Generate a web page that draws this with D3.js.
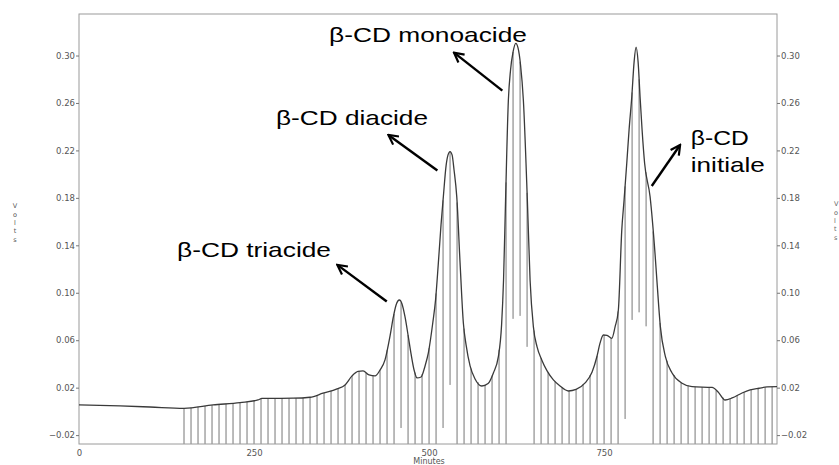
<!DOCTYPE html>
<html><head><meta charset="utf-8">
<script src="https://cdn.jsdelivr.net/npm/d3@7"></script>
<style>body{margin:0;background:#fff}svg{display:block}</style>
</head><body><svg id="c" width="839" height="465"></svg>
<script>
// chromatogram trace (minutes, volts)
const traceT = [0,58.6,101.4,150,191.4,230,255.7,261.4,305.7,330,348.6,368.6,380,390,398.6,405.7,414.3,422.9,430,437.1,444.3,449,452.9,457.6,461.4,465.7,470,474.3,478.6,482.9,488.6,494.3,499,505.3,509.3,513.3,517.1,520.4,524.3,527.1,530,532.9,535.7,539.6,544.3,549,552.9,558.6,565.7,575.3,584.3,591.9,599,603.6,606.4,609.3,613.3,616.4,620,623.9,627.1,630.7,634.7,640.4,644.3,649,654.3,661,668.6,677.6,687.1,699,710,722.9,732.9,740,744.3,749,754.3,761,765.7,770.4,775.3,778.6,782.4,785.7,789.6,792.9,795.7,798.6,801.4,804.3,807.9,815.7,822.9,825.7,830.4,837.6,847.1,861.4,875.7,904.3,912.9,922.9,932.9,947.1,958.6,971.4,982.9,997];
const traceV = [0.0054,0.0046,0.0037,0.0026,0.0054,0.0074,0.0096,0.0109,0.0111,0.0119,0.0153,0.0189,0.0223,0.0299,0.0337,0.0341,0.0307,0.0299,0.0349,0.0434,0.0636,0.0796,0.0897,0.0939,0.0906,0.0796,0.0644,0.0484,0.0349,0.0282,0.029,0.0383,0.0493,0.0745,0.094,0.1252,0.1572,0.1808,0.207,0.2162,0.219,0.2162,0.2035,0.1808,0.1252,0.0745,0.056,0.0383,0.0273,0.0214,0.0235,0.0324,0.0461,0.0729,0.1108,0.1783,0.2625,0.2878,0.303,0.3103,0.3064,0.292,0.2625,0.1783,0.1108,0.0714,0.0543,0.0434,0.0341,0.0265,0.0214,0.0172,0.0185,0.024,0.0332,0.0467,0.0577,0.0644,0.064,0.0616,0.0712,0.0855,0.153,0.1783,0.2092,0.2372,0.2653,0.2946,0.307,0.2946,0.2653,0.2372,0.2092,0.181,0.1319,0.1083,0.0714,0.0461,0.0324,0.0237,0.0208,0.0202,0.0164,0.0096,0.0113,0.0155,0.0181,0.0195,0.0206,0.0208];
// fraction marks (minutes)
const fractionT = [150,160,170,180,190,200,210,220,230,240,250,260,270,280,290,300,310,320,330,340,350,360,370,380,390,400,410,420,430,440,450,460,470,480,490,500,510,520,530,540,550,560,570,580,590,600,610,620,630,640,650,660,670,680,690,700,710,720,730,740,750,760,770,780,790,800,810,820,830,840,850,860,870,880,890,900,910,920,930,940,950,960,970,980,990];
// marks that stop above the axis (minutes -> lower end in volts)
const shortT = [460,520,530,620,630,640,780,790,800,810];
const shortLowV = [-0.014,-0.014,0.0223,0.078,0.0805,0.0544,-0.0064,0.0771,0.0835,0.0717];
const yTicks = [-0.02,0.02,0.06,0.10,0.14,0.18,0.22,0.26,0.30];
const xTicks = [0,250,500,750];
// annotations
const labelText = ["β-CD triacide","β-CD diacide","β-CD monoacide","β-CD","initiale"];
const labelT = [140,281.4,357.1,873.9,873.9];
const labelV = [0.130,0.2415,0.311,0.2246,0.2021];
const labelLen = [154,152,198,58,74];
const arrowFromT = [439.6,511.9,604.7,818.1];
const arrowFromV = [0.0926,0.203,0.2704,0.190];
const arrowToT = [369,441.9,535.7,858.6];
const arrowToV = [0.1235,0.233,0.3024,0.2246];

const svg = d3.select("#c");
const x = d3.scaleLinear().domain([0,997]).range([79,777]);
const y = d3.scaleLinear().domain([-0.0275,0.335]).range([444,14]);
const traceAt = d3.scaleLinear().domain(traceT).range(traceV);

// fraction marks
const shortMap = new Map(shortT.map((t,i)=>[t,shortLowV[i]]));
svg.append("g").selectAll("line").data(fractionT).join("line")
  .attr("x1",d=>x(d)).attr("x2",d=>x(d))
  .attr("y1",d=>shortMap.has(d)?y(shortMap.get(d)):y(-0.0275))
  .attr("y2",d=>y(traceAt(d)))
  .attr("stroke","#777").attr("stroke-width",1);

// frame
svg.append("rect").attr("x",79).attr("y",14).attr("width",698).attr("height",430)
  .attr("fill","none").attr("stroke","#9a9a9a").attr("stroke-width",1);

// trace
const line = d3.line().x((d,i)=>x(traceT[i])).y((d,i)=>y(traceV[i])).curve(d3.curveMonotoneX);
svg.append("path").attr("d",line(traceT)).attr("fill","none").attr("stroke","#3a3a3a").attr("stroke-width",1.3);

// axes
const fmt = d=>d3.format(".2f")(d);
const axL = d3.axisLeft(y).tickValues(yTicks).tickSize(3).tickPadding(1).tickFormat(fmt);
const axR = d3.axisRight(y).tickValues(yTicks).tickSize(3).tickPadding(1).tickFormat(fmt);
const axB = d3.axisBottom(x).tickValues(xTicks).tickSize(0).tickPadding(6).tickFormat(d3.format("d"));
function style(g){
  g.select(".domain").remove();
  g.selectAll("line").attr("stroke","#777");
  g.selectAll("text").attr("fill","#555").style("font-family","DejaVu Sans").style("font-size","8.5px");
}
svg.append("g").attr("transform","translate(79,0)").call(axL).call(style);
svg.append("g").attr("transform","translate(777,0)").call(axR).call(style);
svg.append("g").attr("transform","translate(0,444)").call(axB).call(style);

svg.append("text").attr("x",x(500)).attr("y",464).text("Minutes")
  .attr("text-anchor","middle").attr("fill","#555").style("font-family","DejaVu Sans").style("font-size","8px");

// Volts titles (stacked letters)
const letters = ["V","o","l","t","s"];
const lbY = [208,217,225,233,242];
svg.append("g").selectAll("text").data(letters).join("text")
  .attr("x",15).attr("y",(d,i)=>lbY[i]).attr("text-anchor","middle").text(d=>d)
  .attr("fill","#555").style("font-family","DejaVu Sans").style("font-size","6.5px");
svg.append("g").selectAll("text").data(letters).join("text")
  .attr("x",834).attr("y",(d,i)=>lbY[i]-2).text(d=>d)
  .attr("fill","#666").style("font-family","DejaVu Sans").style("font-size","6.5px");

// annotations
svg.append("defs").append("marker").attr("id","ah").attr("viewBox","0 0 12 12")
  .attr("refX",10.5).attr("refY",6).attr("markerWidth",12).attr("markerHeight",12)
  .attr("markerUnits","userSpaceOnUse").attr("orient","auto")
  .append("path").attr("d","M1,1 L10.5,6 L1,11").attr("fill","none").attr("stroke","#000").attr("stroke-width",2.2);
svg.append("g").selectAll("line").data(arrowFromT).join("line")
  .attr("x1",(d,i)=>x(arrowFromT[i])).attr("y1",(d,i)=>y(arrowFromV[i]))
  .attr("x2",(d,i)=>x(arrowToT[i])).attr("y2",(d,i)=>y(arrowToV[i]))
  .attr("stroke","#000").attr("stroke-width",2.4).attr("marker-end","url(#ah)");
svg.append("g").selectAll("text").data(labelText).join("text")
  .attr("x",(d,i)=>x(labelT[i])).attr("y",(d,i)=>y(labelV[i]))
  .attr("textLength",(d,i)=>labelLen[i]).attr("lengthAdjust","spacingAndGlyphs")
  .text(d=>d).attr("fill","#000").style("font-family","Liberation Sans, Arial").style("font-size","21px");
</script></body></html>
